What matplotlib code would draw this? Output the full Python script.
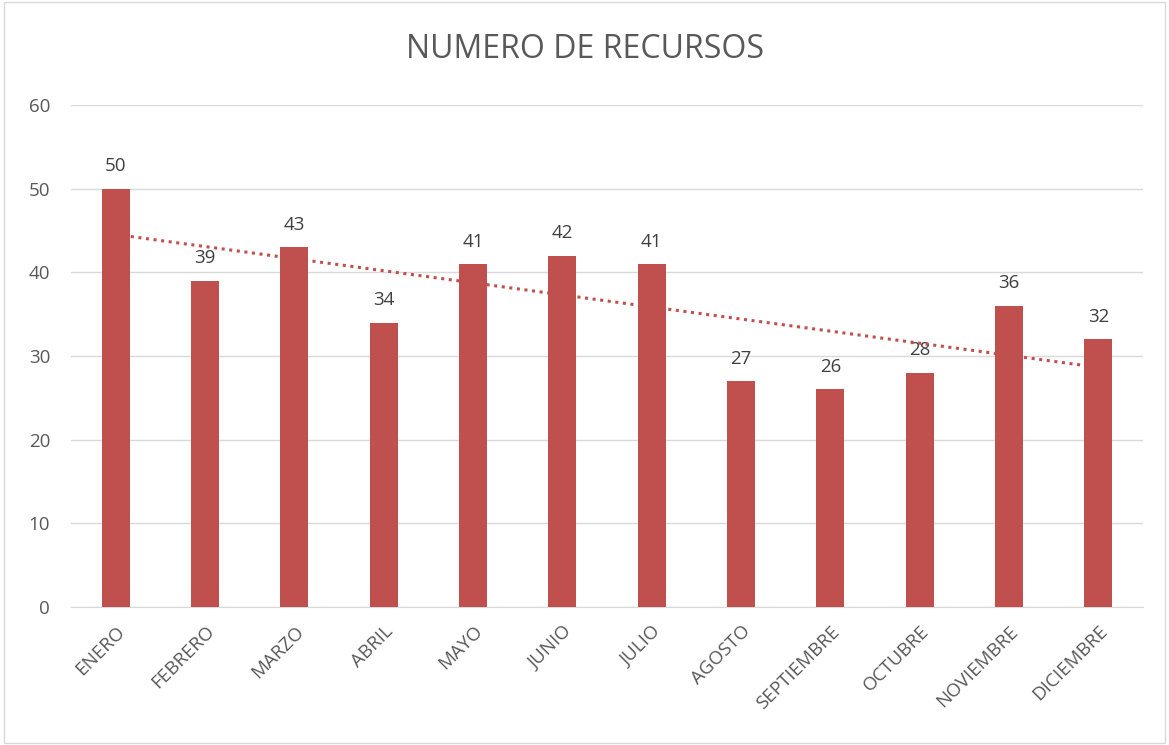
import matplotlib
matplotlib.use("Agg")
import matplotlib.pyplot as plt
import numpy as np

months = ["ENERO", "FEBRERO", "MARZO", "ABRIL", "MAYO", "JUNIO", "JULIO",
          "AGOSTO", "SEPTIEMBRE", "OCTUBRE", "NOVIEMBRE", "DICIEMBRE"]
values = [50, 39, 43, 34, 41, 42, 41, 27, 26, 28, 36, 32]
yticks = [0, 10, 20, 30, 40, 50, 60]

plt.rcParams['font.family'] = ['Open Sans', 'DejaVu Sans']
text_color = "#595959"
bar_color = "#C0504D"

fig = plt.figure(figsize=(11.69, 7.45), dpi=100)
ax = fig.add_axes([71/1169, 1 - 607/745, (1143 - 71)/1169, (607 - 105)/745])

x = np.arange(len(months))
ax.bar(x, values, width=0.31, color=bar_color, zorder=3)
for xi, v in zip(x, values):
    ax.text(xi, v + 1.6, str(v), ha="center", va="bottom", fontsize=13.5, color="#404040")

coef = np.polyfit(x, values, 1)
ax.plot(x, np.polyval(coef, x), linestyle=(0, (1, 1.5)), color=bar_color, linewidth=2.2, zorder=4)

ax.set_xlim(-0.5, len(months) - 0.5)
ax.set_ylim(0, 60)
ax.set_yticks(yticks)
ax.set_yticklabels([str(t) for t in yticks], fontsize=13.5, color=text_color)
ax.set_xticks(x)
ax.set_xticklabels(months, rotation=45, ha="right", rotation_mode="anchor",
                   fontsize=13.5, color=text_color)
ax.tick_params(axis="both", length=0)
ax.tick_params(axis="y", pad=15)
ax.tick_params(axis="x", pad=11)
ax.grid(axis="y", color="#D9D9D9", linewidth=1, zorder=0)
for s in ["top", "right", "left"]:
    ax.spines[s].set_visible(False)
ax.spines["bottom"].set_color("#D9D9D9")

fig.text(0.5, 1 - 50/745, "NUMERO DE RECURSOS", ha="center", va="center",
         fontsize=23, color=text_color)

fig.patches.append(plt.Rectangle((0.003, 0.003), 0.994, 0.994, transform=fig.transFigure,
                                 fill=False, edgecolor="#D9D9D9", linewidth=1))

fig.savefig("out.png", dpi=100)
